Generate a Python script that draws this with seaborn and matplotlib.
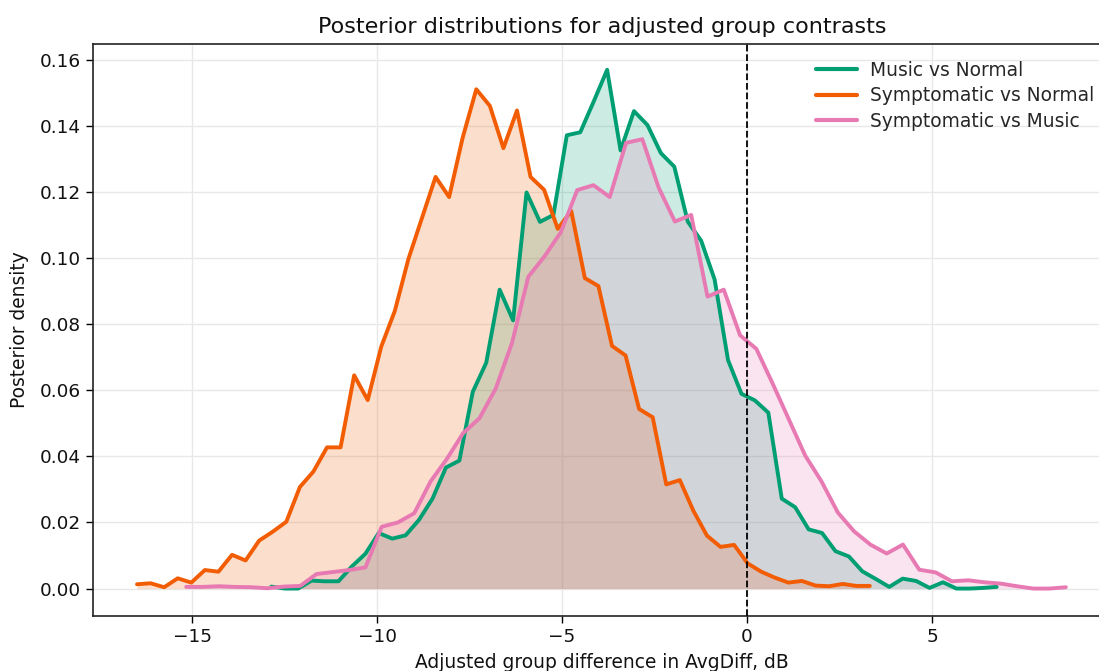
import numpy as np
import pandas as pd
import matplotlib
matplotlib.use("Agg")
import matplotlib.pyplot as plt
import seaborn as sns

# ---- data ----
music_normal_x = np.linspace(-12.86, 6.75, 55)
music_normal_y = [0.0006, 0.0, 0.0, 0.0024, 0.0022, 0.0022, 0.0067, 0.0105, 0.0168, 0.0151,
                  0.0161, 0.0208, 0.0272, 0.0366, 0.0387, 0.0595, 0.0683, 0.0904, 0.0811, 0.1198,
                  0.1109, 0.1130, 0.1371, 0.1380, 0.1473, 0.1569, 0.1325, 0.1444, 0.1402, 0.1317,
                  0.1276, 0.1110, 0.1052, 0.0935, 0.0691, 0.0589, 0.0569, 0.0532, 0.0272, 0.0246,
                  0.0179, 0.0168, 0.0113, 0.0097, 0.0052, 0.0029, 0.0005, 0.0030, 0.0023, 0.0002,
                  0.0019, 0.0, 0.0, 0.0002, 0.0005]

symp_normal_x = np.linspace(-16.49, 3.32, 55)
symp_normal_y = [0.0013, 0.0016, 0.0004, 0.0031, 0.0018, 0.0056, 0.0051, 0.0102, 0.0085, 0.0145,
                 0.0172, 0.0202, 0.0307, 0.0354, 0.0427, 0.0427, 0.0645, 0.0570, 0.0732, 0.0840,
                 0.0997, 0.1121, 0.1245, 0.1184, 0.1364, 0.1510, 0.1460, 0.1332, 0.1446, 0.1245,
                 0.1206, 0.1088, 0.1142, 0.0939, 0.0915, 0.0734, 0.0705, 0.0543, 0.0518, 0.0315,
                 0.0328, 0.0235, 0.0160, 0.0126, 0.0132, 0.0076, 0.0051, 0.0033, 0.0018, 0.0023,
                 0.0009, 0.0007, 0.0014, 0.0008, 0.0008]

symp_music_x = np.linspace(-15.16, 8.62, 55)
symp_music_y = [0.0005, 0.0005, 0.0007, 0.0005, 0.0004, 0.0001, 0.0006, 0.0008, 0.0044, 0.0050,
                0.0056, 0.0064, 0.0187, 0.0200, 0.0228, 0.0324, 0.0392, 0.0470, 0.0515, 0.0605,
                0.0743, 0.0943, 0.1005, 0.1078, 0.1205, 0.1220, 0.1184, 0.1348, 0.1359, 0.1213,
                0.1110, 0.1130, 0.0883, 0.0904, 0.0766, 0.0725, 0.0620, 0.0511, 0.0402, 0.0324,
                0.0230, 0.0173, 0.0133, 0.0106, 0.0133, 0.0057, 0.0049, 0.0022, 0.0025, 0.0019,
                0.0015, 0.0007, 0.0, 0.0, 0.0004]

labels = ["Music vs Normal", "Symptomatic vs Normal", "Symptomatic vs Music"]
colors = ["#009E73", "#F25C02", "#E77AB3"]

series = [(music_normal_x, music_normal_y),
          (symp_normal_x, symp_normal_y),
          (symp_music_x, symp_music_y)]

frames = []
for lab, (xs, ys) in zip(labels, series):
    frames.append(pd.DataFrame({"diff": xs, "density": ys, "contrast": lab}))
df = pd.concat(frames, ignore_index=True)

# ---- style ----
sns.set_theme(style="ticks")
plt.rcParams["font.family"] = ["DejaVu Sans"]

W, H = 1099, 671
ax_left, ax_right, ax_top, ax_bottom = 93, 1111, 44, 616
fig = plt.figure(figsize=(W / 100, H / 100), dpi=100)
ax = fig.add_axes([ax_left / W, (H - ax_bottom) / H,
                   (ax_right - ax_left) / W, (ax_bottom - ax_top) / H])

sns.lineplot(data=df, x="diff", y="density", hue="contrast", hue_order=labels,
             palette=colors, linewidth=2.8, ax=ax, sort=False, estimator=None)

for lab, col in zip(labels, colors):
    sub = df[df["contrast"] == lab]
    ax.fill_between(sub["diff"], sub["density"], 0, color=col, alpha=0.2, linewidth=0)

ax.axvline(0, color="black", linestyle="--", linewidth=1.3, zorder=5)

ax.set_xlim(-17.68, 9.84)
ax.set_ylim(-0.0083, 0.1647)
ax.set_xticks([-15, -10, -5, 0, 5])
ax.set_yticks(np.arange(0, 0.161, 0.02))
ax.yaxis.set_major_formatter(matplotlib.ticker.FormatStrFormatter("%.2f"))
ax.tick_params(labelsize=13.3, length=5, width=1, color="black", labelcolor="#111111")
ax.grid(True, color="#e8e8e8", linewidth=1)
ax.set_axisbelow(True)
for s in ax.spines.values():
    s.set_color("#222222")
    s.set_linewidth(1.2)

ax.set_title("Posterior distributions for adjusted group contrasts", fontsize=16, pad=8,
             color="#111111")
ax.set_xlabel("Adjusted group difference in AvgDiff, dB", fontsize=13.4, labelpad=5,
              color="#111111")
ax.set_ylabel("Posterior density", fontsize=13.4, labelpad=8, color="#111111")

leg = ax.legend(loc="upper right", frameon=False, fontsize=13.4, handlelength=2.2,
                handletextpad=0.7, labelspacing=0.35)
for line in leg.get_lines():
    line.set_linewidth(3)

fig.savefig("out.png", dpi=100)
